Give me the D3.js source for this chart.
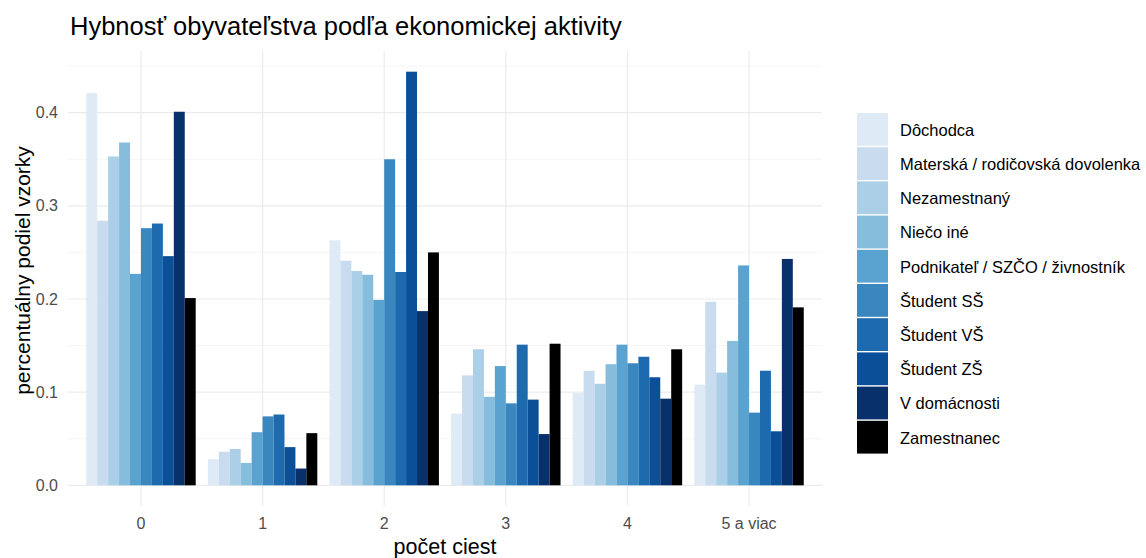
<!DOCTYPE html>
<html>
<head>
<meta charset="utf-8">
<script src="https://cdn.jsdelivr.net/npm/d3@7"></script>
<style>
  body { margin: 0; background: #fff; }
  svg { display: block; font-family: "Liberation Sans", Arial, sans-serif; }
</style>
</head>
<body>
<svg id="chart" width="1146" height="558"></svg>
<script>
const categories = ["0", "1", "2", "3", "4", "5 a viac"];
const seriesNames = [
  "Dôchodca",
  "Materská / rodičovská dovolenka",
  "Nezamestnaný",
  "Niečo iné",
  "Podnikateľ / SZČO / živnostník",
  "Študent SŠ",
  "Študent VŠ",
  "Študent ZŠ",
  "V domácnosti",
  "Zamestnanec"
];
const seriesColors = ["#DEEBF7", "#C9DCEF", "#ABCFE6", "#86BCDC", "#5AA2CF", "#3A87C0", "#1E6AAF", "#0A4F98", "#08306B", "#000000"];

// values per series, one per category (0,1,2,3,4,5 a viac)
const dochodca      = [0.421, 0.028, 0.263, 0.077, 0.099, 0.108];
const materska      = [0.284, 0.036, 0.241, 0.118, 0.123, 0.197];
const nezamestnany  = [0.353, 0.039, 0.230, 0.146, 0.109, 0.121];
const niecoIne      = [0.368, 0.024, 0.226, 0.095, 0.130, 0.155];
const podnikatel    = [0.227, 0.057, 0.199, 0.128, 0.151, 0.236];
const studentSS     = [0.276, 0.074, 0.350, 0.088, 0.131, 0.078];
const studentVS     = [0.281, 0.076, 0.229, 0.151, 0.138, 0.123];
const studentZS     = [0.246, 0.041, 0.444, 0.092, 0.116, 0.058];
const vDomacnosti   = [0.401, 0.018, 0.187, 0.055, 0.093, 0.243];
const zamestnanec   = [0.201, 0.056, 0.250, 0.152, 0.146, 0.191];
const seriesValues = [dochodca, materska, nezamestnany, niecoIne, podnikatel, studentSS, studentVS, studentZS, vDomacnosti, zamestnanec];

const yTicks = [0, 0.1, 0.2, 0.3, 0.4];
const yMinor = [0.05, 0.15, 0.25, 0.35, 0.45];

const titleText = "Hybnosť obyvateľstva podľa ekonomickej aktivity";
const xTitle = "počet ciest";
const yTitle = "percentuálny podiel vzorky";

const svg = d3.select("#chart");
const P = { left: 68, right: 822, top: 51, bottom: 506 };

const maxV = d3.max(seriesValues.flat());
const y = d3.scaleLinear().domain([-0.05 * maxV, maxV * 1.05]).range([P.bottom, P.top]);
const x = d3.scaleBand().domain(categories).range([P.left, P.right]).paddingInner(0.1).paddingOuter(0.15);
const xs = d3.scaleBand().domain(seriesNames).range([0, x.bandwidth()]).padding(0);
const color = d3.scaleOrdinal().domain(seriesNames).range(seriesColors);

// grid
const g = svg.append("g");
g.selectAll("line.minor").data(yMinor).join("line")
  .attr("x1", P.left).attr("x2", P.right)
  .attr("y1", d => y(d)).attr("y2", d => y(d))
  .attr("stroke", "#F3F3F3").attr("stroke-width", 0.8);
g.selectAll("line.majory").data(yTicks).join("line")
  .attr("x1", P.left).attr("x2", P.right)
  .attr("y1", d => y(d)).attr("y2", d => y(d))
  .attr("stroke", "#EBEBEB").attr("stroke-width", 1.2);
g.selectAll("line.majorx").data(categories).join("line")
  .attr("x1", d => x(d) + x.bandwidth() / 2).attr("x2", d => x(d) + x.bandwidth() / 2)
  .attr("y1", P.top).attr("y2", P.bottom)
  .attr("stroke", "#EBEBEB").attr("stroke-width", 1.2);

// bars
const rows = [];
categories.forEach((c, ci) => {
  seriesNames.forEach((s, si) => rows.push({ c, s, v: seriesValues[si][ci] }));
});
svg.append("g").selectAll("rect").data(rows).join("rect")
  .attr("x", d => x(d.c) + xs(d.s))
  .attr("width", xs.bandwidth())
  .attr("y", d => y(d.v))
  .attr("height", d => y(0) - y(d.v))
  .attr("fill", d => color(d.s));

// y axis
const yAxis = d3.axisLeft(y).tickValues(yTicks).tickFormat(d3.format(".1f")).tickSize(0).tickPadding(10);
const ya = svg.append("g").attr("transform", `translate(${P.left},0)`).call(yAxis);
ya.select(".domain").remove();
ya.selectAll("text").attr("fill", "#4D4D4D").style("font-size", "16px").style("font-family", "Liberation Sans, Arial, sans-serif");

// x axis
const xAxis = d3.axisBottom(x).tickSize(0).tickPadding(12);
const xa = svg.append("g").attr("transform", `translate(0,${P.bottom})`).call(xAxis);
xa.select(".domain").remove();
xa.selectAll("text").attr("fill", "#4D4D4D").style("font-size", "16px").style("font-family", "Liberation Sans, Arial, sans-serif");

// titles
svg.append("text").attr("x", 70).attr("y", 35).attr("fill", "#000")
  .style("font-size", "25.5px").text(titleText);
svg.append("text").attr("x", (P.left + P.right) / 2).attr("y", 554).attr("text-anchor", "middle")
  .attr("fill", "#000").style("font-size", "21.5px").text(xTitle);
svg.append("text").attr("transform", `translate(30,${(P.top + P.bottom) / 2 - 8}) rotate(-90)`)
  .attr("text-anchor", "middle").attr("fill", "#000").style("font-size", "21px").text(yTitle);

// legend
const lg = svg.append("g").attr("transform", "translate(857,113)");
const step = 34.2;
const items = lg.selectAll("g").data(seriesNames).join("g")
  .attr("transform", (d, i) => `translate(0,${i * step})`);
items.append("rect").attr("width", 31).attr("height", step - 1.4).attr("fill", d => color(d));
items.append("text").attr("x", 43).attr("y", step / 2).attr("dy", "0.35em")
  .attr("fill", "#000").style("font-size", "16.5px").text(d => d);
</script>
</body>
</html>
